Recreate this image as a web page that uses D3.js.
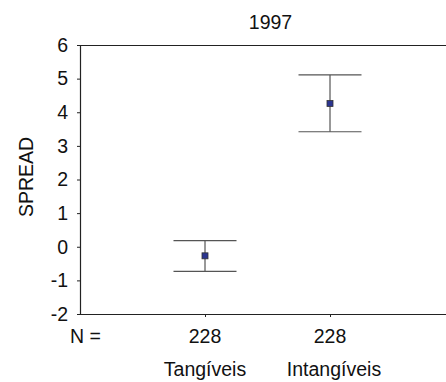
<!DOCTYPE html>
<html><head><meta charset="utf-8">
<script src="https://cdn.jsdelivr.net/npm/d3@7"></script>
<style>body{margin:0;background:#fff}svg{display:block;font-family:Arial,"Liberation Sans",sans-serif}</style>
</head><body><svg id="c" width="446" height="382"></svg>
<script>
const categories = ["Tangíveis", "Intangíveis"];
const nValues = [228, 228];
const means = [-0.27, 4.26];
const upper = [0.18, 5.11];
const lower = [-0.73, 3.42];
const yTicks = [-2, -1, 0, 1, 2, 3, 4, 5, 6];
const title = "1997";
const yLabel = "SPREAD";

const FS = 19.5;
const FONT = "Arial, 'Liberation Sans', sans-serif";
const svg = d3.select("#c");
const mLeft = 80, mRight = 455, mTop = 45, mBottom = 314;
const y = d3.scaleLinear().domain([-2, 6]).range([mBottom, mTop]);
const x = d3.scalePoint().domain(["", ...categories, " "]).range([mLeft, mRight]);

svg.append("line").attr("x1", mLeft).attr("x2", 446).attr("y1", mTop + 0.5).attr("y2", mTop + 0.5).attr("stroke", "#222").attr("stroke-width", 1.2);

const yAxis = svg.append("g").attr("transform", `translate(${mLeft},0)`)
  .call(d3.axisLeft(y).tickValues(yTicks).tickSize(3).tickPadding(9).tickFormat(d => String(d)));
yAxis.select(".domain").attr("stroke", "#222").attr("stroke-width", 1.2);
yAxis.selectAll(".tick line").attr("stroke", "#222");
yAxis.selectAll("text").attr("font-size", FS).attr("fill", "#111").attr("font-family", FONT);

const xAxis = svg.append("g").attr("transform", `translate(0,${mBottom})`)
  .call(d3.axisBottom(x).tickValues(categories).tickSize(3).tickFormat(""));
xAxis.select(".domain").attr("d", `M${mLeft},0.5H446`).attr("stroke", "#222").attr("stroke-width", 1.2);
xAxis.selectAll(".tick line").attr("stroke", "#222");

const txt = sel => sel.attr("font-size", FS).attr("fill", "#111").attr("font-family", FONT);

svg.append("text").attr("x", 270.5).attr("y", 29).attr("text-anchor", "middle").call(txt).text(title);
svg.append("text").attr("transform", `translate(33,177) rotate(-90)`).attr("text-anchor", "middle").call(txt).text(yLabel);

svg.append("text").attr("x", 70).attr("y", 343).attr("text-anchor", "start").call(txt).text("N =");
svg.selectAll(".nv").data(categories).enter().append("text")
  .attr("x", d => x(d)).attr("y", 343).attr("text-anchor", "middle").call(txt)
  .text((d, i) => nValues[i]);
svg.selectAll(".cat").data(categories).enter().append("text")
  .attr("x", (d, i) => x(d) + (i === 1 ? 4 : 0)).attr("y", 376).attr("text-anchor", "middle").call(txt)
  .text(d => d);

const capW = 31.5;
const g = svg.selectAll(".eb").data(categories).enter().append("g");
g.append("line").attr("x1", d => x(d)).attr("x2", d => x(d))
  .attr("y1", (d, i) => y(upper[i])).attr("y2", (d, i) => y(lower[i])).attr("stroke", "#333").attr("stroke-width", 1);
g.append("line").attr("x1", d => x(d) - capW).attr("x2", d => x(d) + capW)
  .attr("y1", (d, i) => y(upper[i])).attr("y2", (d, i) => y(upper[i])).attr("stroke", "#555").attr("stroke-width", 1.2);
g.append("line").attr("x1", d => x(d) - capW).attr("x2", d => x(d) + capW)
  .attr("y1", (d, i) => y(lower[i])).attr("y2", (d, i) => y(lower[i])).attr("stroke", "#555").attr("stroke-width", 1.2);
g.append("rect").attr("x", d => x(d) - 3).attr("y", (d, i) => y(means[i]) - 3)
  .attr("width", 6).attr("height", 6).attr("fill", "#2b3590").attr("stroke", "#333").attr("stroke-width", 0.8);
</script></body></html>
